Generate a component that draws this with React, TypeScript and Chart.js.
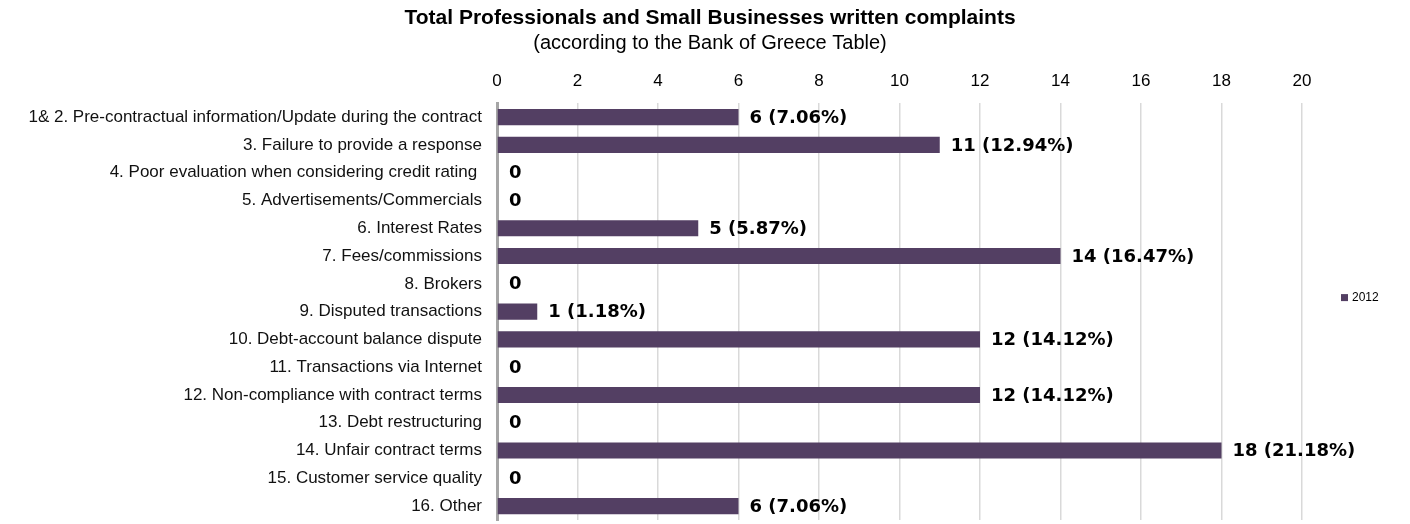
import React, { useEffect, useRef } from "react";
import { Chart, registerables } from "chart.js";

Chart.register(...registerables);

const categories: string[] = [
  "1& 2. Pre-contractual information/Update during the contract",
  "3. Failure to provide a response",
  "4. Poor evaluation when considering credit rating ",
  "5. Advertisements/Commercials",
  "6. Interest Rates",
  "7. Fees/commissions",
  "8. Brokers",
  "9. Disputed transactions",
  "10. Debt-account balance dispute",
  "11. Transactions via Internet",
  "12. Non-compliance with contract terms",
  "13. Debt restructuring",
  "14. Unfair contract terms",
  "15. Customer service quality",
  "16. Other",
];

const complaints2012: number[] = [6, 11, 0, 0, 5, 14, 0, 1, 12, 0, 12, 0, 18, 0, 6];

const shares2012: string[] = [
  "7.06%", "12.94%", "", "", "5.87%", "16.47%", "", "1.18%",
  "14.12%", "", "14.12%", "", "21.18%", "", "7.06%",
];

const seriesLabel = "2012";
const xMin = 0;
const xMax = 20;
const xStep = 2;

const titleText = "Total Professionals and Small Businesses written complaints";
const subtitleText = "(according to the Bank of Greece Table)";

const BAR_COLOR = "#533f63";

const valueLabelPlugin = {
  id: "valueLabels",
  afterDatasetsDraw(chart: any) {
    const ctx = chart.ctx;
    const meta = chart.getDatasetMeta(0);
    const ds = chart.data.datasets[0];
    ctx.save();
    ctx.font = "bold 18px 'DejaVu Sans'";
    ctx.fillStyle = "#000";
    ctx.textBaseline = "middle";
    ctx.textAlign = "left";
    meta.data.forEach((bar: any, i: number) => {
      const v = ds.data[i] as number;
      const share = shares2012[i];
      const text = v === 0 || !share ? String(v) : `${v} (${share})`;
      const x = v === 0 ? bar.x + 12 : bar.x + 11;
      ctx.fillText(text, x, bar.y + 1);
    });
    ctx.restore();
  },
};

const customLegendPlugin = {
  id: "customLegend",
  afterDraw(chart: any) {
    const ctx = chart.ctx;
    const area = chart.chartArea;
    const ds = chart.data.datasets[0];
    const cx = area.right + 39;
    const cy = (area.top + area.bottom) / 2 - 14;
    ctx.save();
    ctx.fillStyle = ds.backgroundColor;
    ctx.fillRect(cx, cy - 3.5, 7, 7);
    ctx.fillStyle = "#000";
    ctx.font = "12px 'Liberation Sans'";
    ctx.textBaseline = "middle";
    ctx.textAlign = "left";
    ctx.fillText(ds.label, cx + 11, cy);
    ctx.restore();
  },
};

export default function App() {
  const canvasRef = useRef<HTMLCanvasElement | null>(null);

  useEffect(() => {
    if (!canvasRef.current) return;
    const chart = new Chart(canvasRef.current, {
      type: "bar",
      data: {
        labels: categories,
        datasets: [
          {
            label: seriesLabel,
            data: complaints2012,
            backgroundColor: BAR_COLOR,
            borderWidth: 0,
            barPercentage: 0.58,
            categoryPercentage: 1,
          },
        ],
      },
      options: {
        indexAxis: "y",
        responsive: false,
        animation: false,
        layout: { padding: { left: 10, right: 0, top: 0, bottom: 4 } },
        plugins: {
          legend: { display: false },
          tooltip: { enabled: false },
          title: {
            display: true,
            text: titleText,
            color: "#000",
            font: { family: "'Liberation Sans'", size: 21, weight: "bold" },
            padding: { top: 6, bottom: 0 },
          },
          subtitle: {
            display: true,
            text: subtitleText,
            color: "#000",
            font: { family: "'Liberation Sans'", size: 20 },
            padding: { top: 0, bottom: 0 },
          },
        },
        scales: {
          x: {
            position: "top",
            min: xMin,
            max: xMax,
            ticks: {
              stepSize: xStep,
              color: "#000",
              font: { family: "'Liberation Sans'", size: 17 },
              padding: 12,
            },
            grid: { color: "#d9d9d9", lineWidth: 1.5, drawTicks: false },
            border: { display: false },
            afterFit: (s: any) => {
              s.height = 48;
            },
          },
          y: {
            ticks: {
              color: "#111",
              font: { family: "'Liberation Sans'", size: 17 },
              padding: 15,
              autoSkip: false,
            },
            grid: { display: false, drawTicks: false },
            border: { display: true, color: "#a6a6a6", width: 3 },
            afterFit: (s: any) => {
              s.width = 487;
              s.paddingTop = 0;
              s.paddingBottom = 0;
            },
          },
          yRight: {
            position: "right",
            display: true,
            ticks: { display: false },
            grid: { display: false, drawTicks: false },
            border: { display: false },
            afterFit: (s: any) => {
              s.width = 108;
              s.paddingTop = 0;
              s.paddingBottom = 0;
            },
          },
        },
      },
      plugins: [valueLabelPlugin, customLegendPlugin],
    });
    return () => chart.destroy();
  }, []);

  return (
    <div style={{ position: "absolute", left: 0, top: 0, width: 1410, height: 524 }}>
      <canvas ref={canvasRef} width={1410} height={524} style={{ display: "block" }} />
    </div>
  );
}
